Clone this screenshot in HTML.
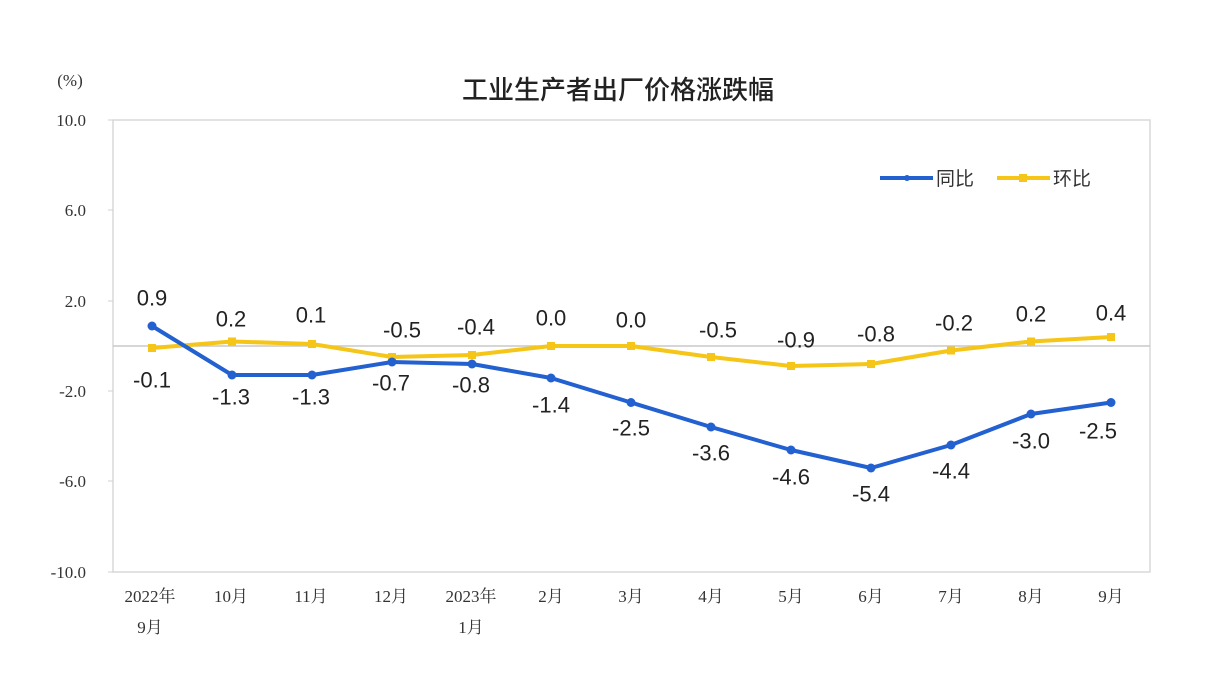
<!DOCTYPE html>
<html><head><meta charset="utf-8"><style>
body{margin:0;background:#fff;}
text{font-family:"Liberation Sans","Noto Sans CJK SC",sans-serif;}
.ax text,text.ax{font-family:"Liberation Serif","Noto Serif CJK SC",serif;font-size:17px;fill:#333;}
.lb text{font-size:22px;fill:#222;text-anchor:middle;dominant-baseline:central;}
</style></head><body>
<svg width="1224" height="678" xmlns="http://www.w3.org/2000/svg">
<text x="618" y="99" text-anchor="middle" style="font-family:'Noto Sans CJK SC',sans-serif;font-size:26px;font-weight:500;fill:#222">工业生产者出厂价格涨跌幅</text>
<text x="70" y="86" text-anchor="middle" class="ax">(%)</text>
<rect x="113" y="120" width="1037" height="452" fill="none" stroke="#d9d9d9" stroke-width="1.5"/>
<line x1="113" y1="346" x2="1150" y2="346" stroke="#c8c8c8" stroke-width="1.5"/>
<g stroke="#d0d0d0"><line x1="108" y1="120" x2="113" y2="120"/><line x1="108" y1="210" x2="113" y2="210"/><line x1="108" y1="301" x2="113" y2="301"/><line x1="108" y1="391" x2="113" y2="391"/><line x1="108" y1="481" x2="113" y2="481"/><line x1="108" y1="572" x2="113" y2="572"/></g>
<g class="ax" text-anchor="end">
<text x="86" y="126">10.0</text><text x="86" y="216">6.0</text><text x="86" y="307">2.0</text><text x="86" y="397">-2.0</text><text x="86" y="487">-6.0</text><text x="86" y="578">-10.0</text>
</g>
<g class="ax" text-anchor="middle">
<text x="150" y="602">2022年</text><text x="150" y="633">9月</text>
<text x="231" y="602">10月</text><text x="311" y="602">11月</text><text x="391" y="602">12月</text>
<text x="471" y="602">2023年</text><text x="471" y="633">1月</text>
<text x="551" y="602">2月</text><text x="631" y="602">3月</text><text x="711" y="602">4月</text><text x="791" y="602">5月</text><text x="871" y="602">6月</text><text x="951" y="602">7月</text><text x="1031" y="602">8月</text><text x="1111" y="602">9月</text>
</g>
<polyline fill="none" stroke="#f5c518" stroke-width="4" stroke-linejoin="round" points="152,348 232,341.5 312,344 392,357 472,355 551,346 631,346 711,357 791,366 871,364 951,350.5 1031,341.5 1111,337"/>
<g fill="#f5c518"><rect x="148" y="344" width="8" height="8"/><rect x="228" y="337.5" width="8" height="8"/><rect x="308" y="340" width="8" height="8"/><rect x="388" y="353" width="8" height="8"/><rect x="468" y="351" width="8" height="8"/><rect x="547" y="342" width="8" height="8"/><rect x="627" y="342" width="8" height="8"/><rect x="707" y="353" width="8" height="8"/><rect x="787" y="362" width="8" height="8"/><rect x="867" y="360" width="8" height="8"/><rect x="947" y="346.5" width="8" height="8"/><rect x="1027" y="337.5" width="8" height="8"/><rect x="1107" y="333" width="8" height="8"/></g>
<polyline fill="none" stroke="#2360d0" stroke-width="4" stroke-linejoin="round" points="152,326 232,375 312,375 392,362 472,364 551,378 631,402.5 711,427 791,450 871,468 951,445 1031,414 1111,402.5"/>
<g fill="#2360d0"><circle cx="152" cy="326" r="4.5"/><circle cx="232" cy="375" r="4.5"/><circle cx="312" cy="375" r="4.5"/><circle cx="392" cy="362" r="4.5"/><circle cx="472" cy="364" r="4.5"/><circle cx="551" cy="378" r="4.5"/><circle cx="631" cy="402.5" r="4.5"/><circle cx="711" cy="427" r="4.5"/><circle cx="791" cy="450" r="4.5"/><circle cx="871" cy="468" r="4.5"/><circle cx="951" cy="445" r="4.5"/><circle cx="1031" cy="414" r="4.5"/><circle cx="1111" cy="402.5" r="4.5"/></g>
<g class="lb">
<text x="152" y="298">0.9</text><text x="231" y="397">-1.3</text><text x="311" y="397">-1.3</text><text x="391" y="383">-0.7</text><text x="471" y="385">-0.8</text><text x="551" y="405">-1.4</text><text x="631" y="428">-2.5</text><text x="711" y="453">-3.6</text><text x="791" y="477">-4.6</text><text x="871" y="494">-5.4</text><text x="951" y="471">-4.4</text><text x="1031" y="441">-3.0</text><text x="1098" y="431">-2.5</text>
<text x="152" y="380">-0.1</text><text x="231" y="319">0.2</text><text x="311" y="315">0.1</text><text x="402" y="330">-0.5</text><text x="476" y="327">-0.4</text><text x="551" y="318">0.0</text><text x="631" y="320">0.0</text><text x="718" y="330">-0.5</text><text x="796" y="340">-0.9</text><text x="876" y="334">-0.8</text><text x="954" y="323">-0.2</text><text x="1031" y="314">0.2</text><text x="1111" y="313">0.4</text>
</g>
<line x1="880" y1="178" x2="933" y2="178" stroke="#2360d0" stroke-width="4"/><circle cx="907" cy="178" r="3" fill="#2360d0"/>
<text x="936" y="185" style="font-size:19px;fill:#333">同比</text>
<line x1="997" y1="178" x2="1050" y2="178" stroke="#f5c518" stroke-width="4"/><rect x="1019" y="174" width="8" height="8" fill="#f5c518"/>
<text x="1053" y="185" style="font-size:19px;fill:#333">环比</text>
</svg>
</body></html>
